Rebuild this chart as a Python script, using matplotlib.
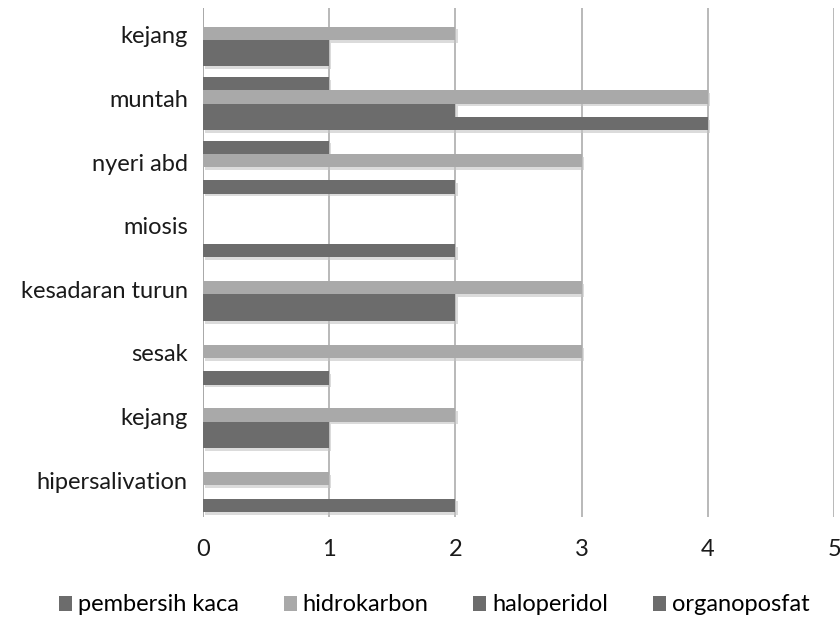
import matplotlib.pyplot as plt
import matplotlib.patheffects as pe
from matplotlib.patches import Patch
import numpy as np

plt.rcParams['font.family'] = ['Lato', 'DejaVu Sans']

# categories listed bottom to top
categories = ['hipersalivation', 'kejang', 'sesak', 'kesadaran turun',
              'miosis', 'nyeri abd', 'muntah', 'kejang']
series = ['pembersih kaca', 'hidrokarbon', 'haloperidol', 'organoposfat']
pembersih_kaca = [0, 0, 0, 0, 0, 1, 1, 0]
hidrokarbon = [1, 2, 3, 3, 0, 3, 4, 2]
haloperidol = [0, 1, 0, 2, 0, 0, 2, 1]
organoposfat = [2, 1, 1, 2, 2, 2, 4, 1]
values = [pembersih_kaca, hidrokarbon, haloperidol, organoposfat]
colors = ['#6c6c6c', '#a9a9a9', '#6c6c6c', '#6c6c6c']

fig = plt.figure(figsize=(8.4, 6.2), dpi=100)
ax = fig.add_axes([0.2417, 0.166, 0.7513, 0.821])

y = np.arange(len(categories))
h = 0.2083
shadow = [pe.SimplePatchShadow(offset=(1.5, -2), shadow_rgbFace='#c4c4c4', alpha=0.6), pe.Normal()]
for j, (vals, col) in enumerate(zip(values, colors)):
    bars = ax.barh(y + (1.5 - j) * h, vals, height=h, color=col, zorder=3)
    for b in bars:
        b.set_path_effects(shadow)

ax.set_xlim(0, 5)
ax.set_ylim(-0.5, 7.5)
ax.set_xticks(range(6))
ax.set_yticks(y + 0.08)
ax.set_yticklabels(categories)
ax.grid(axis='x', color='#a6a6a6', linewidth=1.1, zorder=0)
for s in ax.spines.values():
    s.set_visible(False)
ax.axvline(0, color='#a6a6a6', linewidth=1.1, zorder=1)
ax.tick_params(axis='y', length=0, pad=11, labelsize=17, colors='#1a1a1a')
ax.tick_params(axis='x', length=0, pad=16, labelsize=17, colors='#1a1a1a')

handles = [Patch(facecolor=c, label=s) for s, c in zip(series, colors)]
fig.legend(handles=handles, loc='lower center', bbox_to_anchor=(0.517, -0.027), ncol=4,
           frameon=False, fontsize=17, handlelength=0.55, handleheight=0.6,
           handletextpad=0.25, columnspacing=1.9)

fig.savefig('out.png', dpi=100)
